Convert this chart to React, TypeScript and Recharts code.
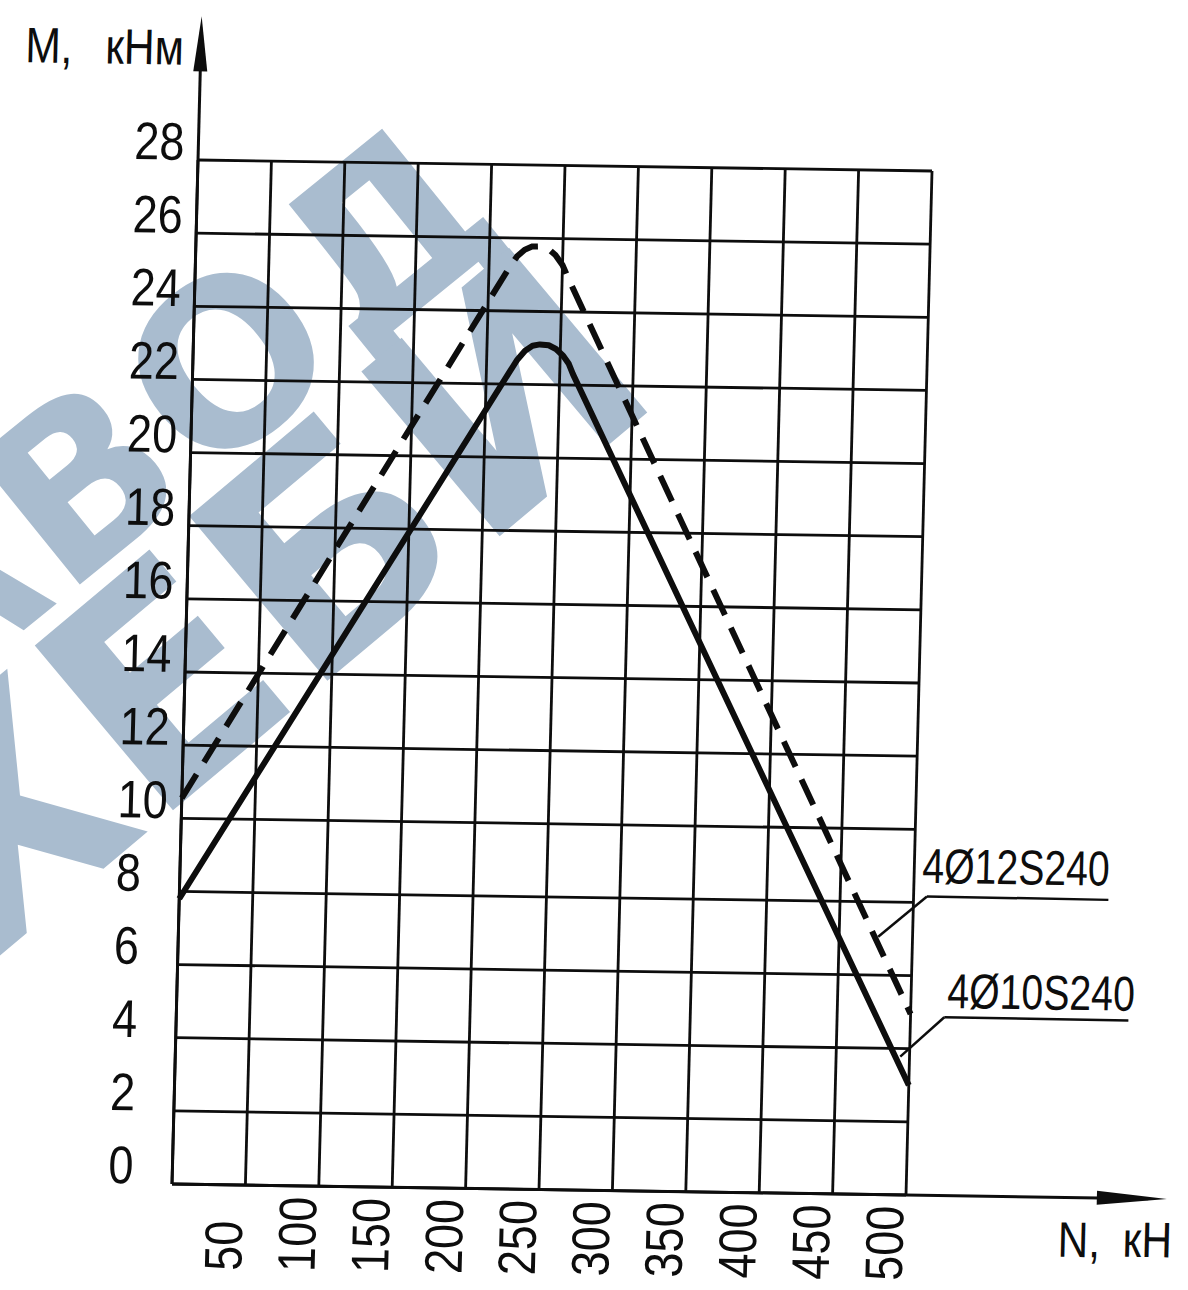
import React from 'react';
import { LineChart, Line, XAxis, YAxis, CartesianGrid, ReferenceLine, ReferenceDot } from 'recharts';

// ---- data (N in kN, M in kNm) ----
const SOLID_NAME = '4Ø10S240';
const SOLID_N = [0, 216, 221, 226, 231, 236, 242, 247, 252, 256, 259, 500];
const SOLID_M = [7.8, 22.35, 22.68, 22.92, 23.06, 23.1, 23.08, 22.98, 22.8, 22.58, 22.3, 3.0];

const DASHED_NAME = '4Ø12S240';
const DASHED_N = [0, 214, 219, 224, 229, 234, 240, 245, 250, 255, 500];
const DASHED_M = [10.55, 25.2, 25.5, 25.68, 25.77, 25.78, 25.72, 25.55, 25.28, 24.85, 4.95];

const X_TICKS = [0, 50, 100, 150, 200, 250, 300, 350, 400, 450, 500];
const Y_TICKS = [0, 2, 4, 6, 8, 10, 12, 14, 16, 18, 20, 22, 24, 26, 28];
const Y_TITLE = ['M,', 'кНм'];
const X_TITLE = ['N,', 'кН'];
const WATERMARK = ['ЗАВОД', 'ХЕБИ'];

const solidData = SOLID_N.map((n, i) => ({ n, m: SOLID_M[i] }));
const dashedData = DASHED_N.map((n, i) => ({ n, m: DASHED_M[i] }));

// ---- layout ----
const CHART_W = 1228;
const CHART_H = 1290;
const PLOT_LEFT = 212;
const PLOT_TOP = 160;
const PLOT_W = 734;
const PLOT_H = 1024;
const YAXIS_W = 60;
const XAXIS_H = 60;
const INK = '#0d0d0d';
const FONT = '"Liberation Sans", Arial, sans-serif';

const NarrowText = ({ x, y, size, rotate = 0, squeeze = 0.85, children }: any) => (
  <text
    x={0}
    y={0}
    fontSize={size}
    fontFamily={FONT}
    fill={INK}
    textAnchor="start"
    transform={`translate(${x} ${y}) rotate(${rotate}) scale(${squeeze} 1)`}
  >
    {children}
  </text>
);

const YTick = (props: any) => {
  const { y, payload } = props;
  return <NarrowText x={PLOT_LEFT - 64} y={y} size={53}>{payload.value}</NarrowText>;
};

const XTick = (props: any) => {
  const { x, payload } = props;
  if (payload.value === 0) return <g />;
  return (
    <NarrowText x={x - 2} y={PLOT_TOP + PLOT_H + 86} size={53} rotate={-90}>
      {payload.value}
    </NarrowText>
  );
};

const YArrow = (p: any) => (
  <polygon points={`${p.cx},${p.cy} ${p.cx - 7},${p.cy + 55} ${p.cx + 7},${p.cy + 55}`} fill={INK} />
);
const XArrow = (p: any) => (
  <polygon points={`${p.cx},${p.cy} ${p.cx - 70},${p.cy - 7} ${p.cx - 70},${p.cy + 7}`} fill={INK} />
);
const makeLabel = (txt: string) => (p: any) => (
  <NarrowText x={p.cx} y={p.cy} size={49} squeeze={0.8}>{txt}</NarrowText>
);

const WM_FONT = '"DejaVu Sans", sans-serif';

export default function App() {
  return (
    <div style={{ position: 'fixed', left: 0, top: 0, width: 1188, height: 1290, overflow: 'hidden', background: '#fff' }}>
      {/* watermark */}
      <svg width={1188} height={1290} style={{ position: 'absolute', left: 0, top: 0 }}>
        <text x={520} y={228} fontSize={225} fontWeight={700} fontFamily={WM_FONT} fill="#a9bccf" textAnchor="end" letterSpacing={8} transform="rotate(-39 520 228)">
          {WATERMARK[0]}
        </text>
        <text x={668} y={395} fontSize={295} fontWeight={700} fontFamily={WM_FONT} fill="#a9bccf" textAnchor="end" transform="rotate(-40 668 395)">
          {WATERMARK[1]}
        </text>
      </svg>
      <div
        style={{
          position: 'absolute',
          left: -40,
          top: 0,
          width: CHART_W,
          height: CHART_H,
          transform: 'matrix(1, 0.015, -0.0254, 1, 0, 0)',
          transformOrigin: `${PLOT_LEFT}px ${PLOT_TOP + PLOT_H}px`,
        }}
      >
        <LineChart
          width={CHART_W}
          height={CHART_H}
          margin={{ top: PLOT_TOP, left: PLOT_LEFT - YAXIS_W, right: CHART_W - PLOT_LEFT - PLOT_W, bottom: CHART_H - PLOT_TOP - PLOT_H - XAXIS_H }}
        >
          <CartesianGrid stroke={INK} strokeWidth={2.8} fill="none" />
          <XAxis
            type="number"
            dataKey="n"
            domain={[0, 500]}
            ticks={X_TICKS}
            interval={0}
            height={XAXIS_H}
            axisLine={false}
            tickLine={false}
            tick={<XTick />}
          />
          <YAxis
            type="number"
            dataKey="m"
            domain={[0, 28]}
            ticks={Y_TICKS}
            interval={0}
            width={YAXIS_W}
            axisLine={false}
            tickLine={false}
            tick={<YTick />}
          />
          <ReferenceLine segment={[{ x: 0, y: 0 }, { x: 0, y: 31.5 }]} stroke={INK} strokeWidth={3} ifOverflow="visible" />
          <ReferenceLine segment={[{ x: 0, y: 0 }, { x: 665, y: 0 }]} stroke={INK} strokeWidth={3} ifOverflow="visible" />
          <ReferenceDot x={0} y={31.93} ifOverflow="visible" shape={YArrow} />
          <ReferenceDot x={677.7} y={0} ifOverflow="visible" shape={XArrow} />

          <ReferenceLine segment={[{ x: 476.6, y: 7.05 }, { x: 509.1, y: 8.17 }]} stroke={INK} strokeWidth={2.5} ifOverflow="visible" />
          <ReferenceLine segment={[{ x: 509.1, y: 8.17 }, { x: 632.7, y: 8.15 }]} stroke={INK} strokeWidth={2.5} ifOverflow="visible" />
          <ReferenceLine segment={[{ x: 493.7, y: 3.78 }, { x: 523, y: 4.875 }]} stroke={INK} strokeWidth={2.5} ifOverflow="visible" />
          <ReferenceLine segment={[{ x: 523, y: 4.875 }, { x: 648.4, y: 4.86 }]} stroke={INK} strokeWidth={2.5} ifOverflow="visible" />
          <ReferenceDot x={505.5} y={8.54} ifOverflow="visible" shape={makeLabel(DASHED_NAME)} />
          <ReferenceDot x={524.7} y={5.13} ifOverflow="visible" shape={makeLabel(SOLID_NAME)} />

          <Line
            data={dashedData}
            dataKey="m"
            name={DASHED_NAME}
            type="linear"
            stroke={INK}
            strokeWidth={6}
            strokeDasharray="28 14"
            dot={false}
            activeDot={false}
            isAnimationActive={false}
          />
          <Line
            data={solidData}
            dataKey="m"
            name={SOLID_NAME}
            type="linear"
            stroke={INK}
            strokeWidth={6}
            strokeLinejoin="round"
            dot={false}
            activeDot={false}
            isAnimationActive={false}
          />
        </LineChart>
        <svg width={CHART_W} height={CHART_H} style={{ position: 'absolute', left: 0, top: 0, pointerEvents: 'none' }}>
          <NarrowText x={36.5} y={65} size={50}>{Y_TITLE[0]}</NarrowText>
          <NarrowText x={116.6} y={65} size={50}>{Y_TITLE[1]}</NarrowText>
          <NarrowText x={1098.8} y={1243.4} size={50}>{X_TITLE[0]}</NarrowText>
          <NarrowText x={1163.8} y={1242.5} size={50}>{X_TITLE[1]}</NarrowText>
        </svg>
      </div>
    </div>
  );
}
